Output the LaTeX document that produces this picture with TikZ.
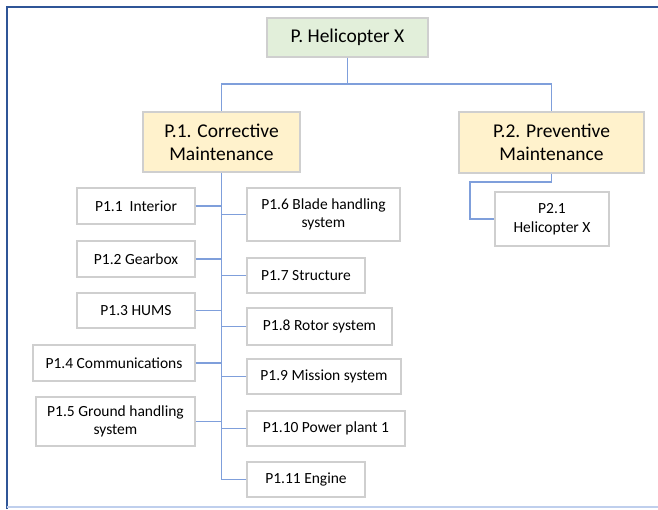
\documentclass[tikz,border=0pt]{standalone}
\usepackage{fontspec}
\setmainfont{Carlito}
\definecolor{framec}{HTML}{2F5597}
\definecolor{linkc}{HTML}{7F9FDB}
\definecolor{boxc}{HTML}{CFCFCF}
\definecolor{rootc}{HTML}{E2EFDA}
\definecolor{branchc}{HTML}{FFF2CC}
\begin{document}
\begin{tikzpicture}[x=1pt,y=-1pt,
    box/.style={draw=boxc,line width=1.2pt,fill=white,align=center,inner sep=0pt,
                font=\fontsize{15.5}{18}\selectfont},
    top/.style={box,fill=rootc,font=\fontsize{19.5}{23}\selectfont},
    branch/.style={box,fill=branchc,font=\fontsize{19.5}{23}\selectfont},
    link/.style={draw=linkc,line width=1.4pt}]
    \useasboundingbox (0,0) rectangle (658,509);
    \draw[framec,line width=2.5pt] (7,509) -- (7,7) -- (658,7);
    \draw[linkc!50,line width=1.5pt] (7,507) -- (658,507);

    \node[top] (root) at (347.5,37.5) [minimum width=161,minimum height=39] {P. Helicopter X};
    \node[branch] (p1) at (221.5,142) [minimum width=157,minimum height=60] {P.1. Corrective\\Maintenance};
    \node[branch] (p2) at (551.5,142.5) [minimum width=185,minimum height=61] {P.2. Preventive\\Maintenance};

    % left column
    \node[box] (p11) at (136,206) [minimum width=118,minimum height=36] {P1.1\ \ Interior};
    \node[box] (p12) at (136,259) [minimum width=118,minimum height=36] {P1.2 Gearbox};
    \node[box] (p13) at (136,310.5) [minimum width=118,minimum height=35] {P1.3 HUMS};
    \node[box] (p14) at (114,363) [minimum width=162,minimum height=36] {P1.4 Communications};
    \node[box] (p15) at (115.5,421.5) [minimum width=159,minimum height=49] {P1.5 Ground handling\\system};

    % right column
    \node[box] (p16) at (323.5,214.5) [minimum width=153,minimum height=53] {P1.6 Blade handling\\system};
    \node[box] (p17) at (306,275.5) [minimum width=118,minimum height=35] {P1.7 Structure};
    \node[box] (p18) at (319.5,326.5) [minimum width=145,minimum height=37] {P1.8 Rotor system};
    \node[box] (p19) at (324,376.5) [minimum width=154,minimum height=35] {P1.9 Mission system};
    \node[box] (p110) at (326,428.5) [minimum width=158,minimum height=35] {P1.10 Power plant 1};
    \node[box] (p111) at (306,479.5) [minimum width=118,minimum height=35] {P1.11 Engine};

    \node[box,font=\fontsize{15.5}{19}\selectfont] (p21) at (552,219) [minimum width=114,minimum height=54] {P2.1\\Helicopter X};

    % connectors
    \coordinate (bus) at (347.5,84);
    \coordinate (p2bend) at (470,182);
    \draw[link] (root.south) -- (bus);
    \draw[link] (bus) -| (p1.north);
    \draw[link] (bus) -| (p2.north);
    \draw[link] (p1.south) -- (p1.south |- p111.west);
    \foreach \n in {p11,p12,p13,p14,p15}
        \draw[link] (\n.east) -- (\n.east -| p1.south);
    \foreach \n in {p16,p17,p18,p19,p110,p111}
        \draw[link] (\n.west) -- (\n.west -| p1.south);
    \draw[link] (p2.south) |- (p2bend) |- (p21.west);
\end{tikzpicture}
\end{document}
